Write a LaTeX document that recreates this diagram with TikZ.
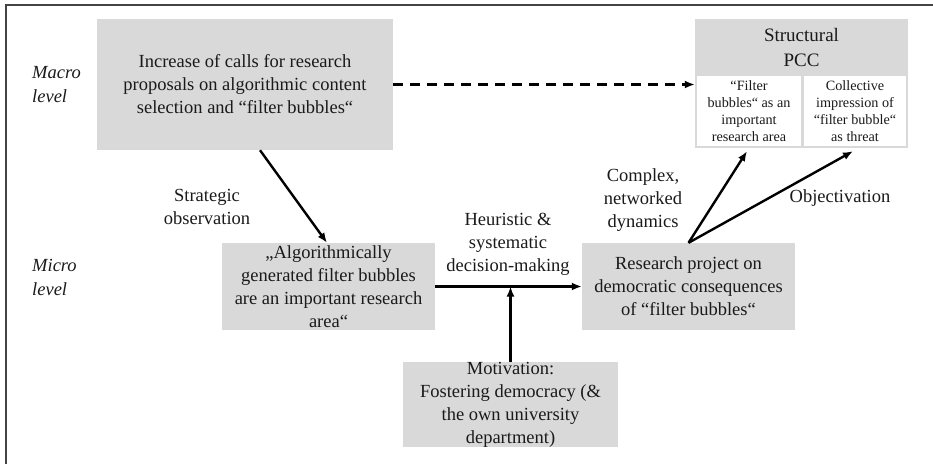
\documentclass[tikz,border=0pt]{standalone}
\usepackage{fontspec}
\setmainfont{Liberation Serif}
\usetikzlibrary{arrows.meta,calc}
\definecolor{boxgray}{HTML}{D9D9D9}
\definecolor{framegray}{HTML}{444444}
\definecolor{inktext}{HTML}{1A1A1A}
\tikzset{
  box/.style={fill=boxgray, draw=none, inner sep=0pt, align=center, text=inktext,
              font=\fontsize{18.5}{23}\selectfont},
  subbox/.style={fill=white, draw=none, inner sep=0pt, align=center, text=inktext,
              font=\fontsize{14.2}{16.8}\selectfont},
  lbl/.style={align=center, text=inktext, inner sep=0pt, font=\fontsize{18.5}{23}\selectfont},
  levellbl/.style={align=left, text=inktext, inner sep=0pt, font=\fontsize{18.5}{24}\selectfont\itshape},
  arr/.style={line width=2.4pt, -{Latex[length=10pt,width=8pt]}},
  dasharr/.style={arr, dash pattern=on 10pt off 7pt},
}
\begin{document}
\begin{tikzpicture}[x=1pt,y=-1pt]
\useasboundingbox (0,0) rectangle (933,464);

% open frame: top and left rules only
\draw[framegray, line width=2pt] (933,5) -- (6,5) -- (6,464);

% level labels
\node[levellbl, anchor=west] (macro) at (32,85) {Macro\\level};
\node[levellbl, anchor=west] (micro) at (32,277) {Micro\\level};

% boxes
\node[box, minimum width=296pt, minimum height=131pt] (calls) at (245,84.5)
  {Increase of calls for research\\proposals on algorithmic content\\selection and “filter bubbles“};
\node[box, minimum width=213pt, minimum height=87pt] (belief) at (328.5,286.5)
  {„Algorithmically\\generated filter bubbles\\are an important research\\area“};
\node[box, minimum width=213pt, minimum height=87pt] (project) at (688.5,286.5)
  {Research project on\\democratic consequences\\of “filter bubbles“};
\node[box, minimum width=215pt, minimum height=85pt] (motiv) at (510.5,404.5)
  {Motivation:\\Fostering democracy (\&\\the own university\\department)};

% structural PCC block with two white cells
\node[box, minimum width=213pt, minimum height=129pt] (pcc) at (801.5,83.5) {};
\node[lbl, font=\fontsize{19}{25}\selectfont] (pcctitle) at (801.5,47.5) {Structural\\PCC};
\node[subbox, minimum width=104pt, minimum height=70pt] (cellA) at (749,111)
  {“Filter\\bubbles“ as an\\important\\research area};
\node[subbox, minimum width=102pt, minimum height=70pt] (cellB) at (855,111)
  {Collective\\impression of\\“filter bubble“\\as threat};

% connector end points below the cells
\coordinate (tipA) at ($(cellA.south)+(-2,5)$);
\coordinate (tipB) at ($(cellB.south)+(-2,5)$);
\coordinate (join) at (motiv.north |- belief.east);

% connectors
\draw[dasharr] (calls.east) -- (calls.east -| pcc.west);
\draw[arr] ([xshift=15pt]calls.south) -- ([xshift=-1.5pt]belief.north);
\draw[arr] (belief.east) -- (project.west);
\draw[arr] (motiv.north) -- (join);
\draw[arr] (project.north) -- (tipA);
\draw[arr] (project.north) -- (tipB);

% connector labels
\node[lbl] (strat) at (207,207) {Strategic\\observation};
\node[lbl] (heur) at (508,244) {Heuristic \&\\systematic\\decision-making};
\node[lbl] (cplx) at (643,200) {Complex,\\networked\\dynamics};
\node[lbl] (objv) at (840,198) {Objectivation};
\end{tikzpicture}
\end{document}
